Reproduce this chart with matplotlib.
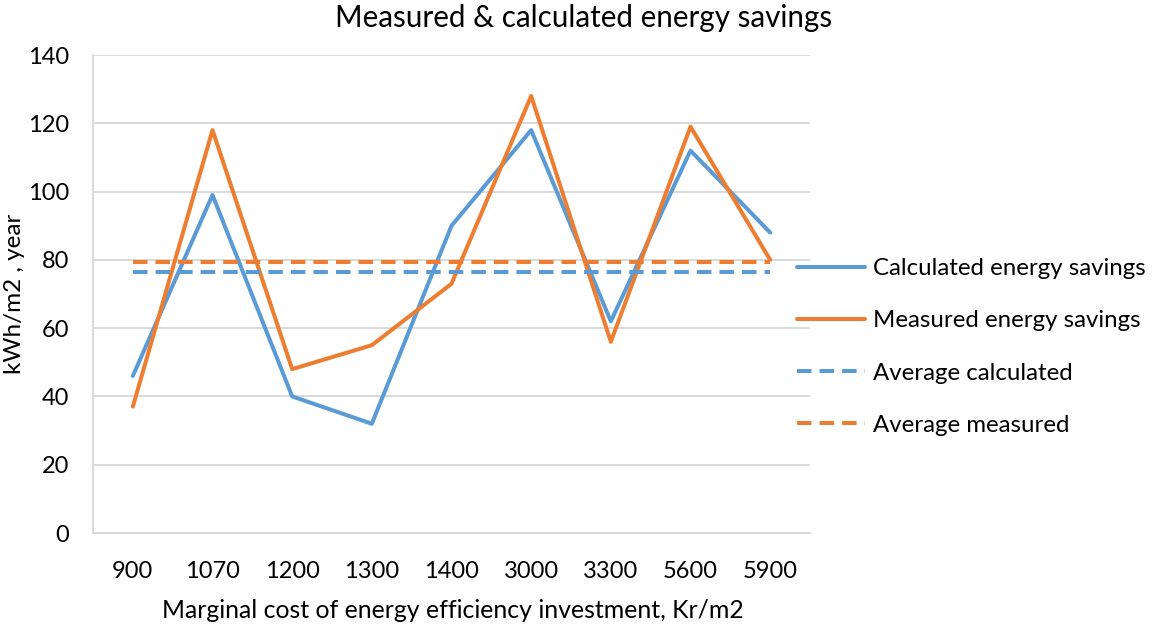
import numpy as np
import matplotlib.pyplot as plt

# data
categories = ['900', '1070', '1200', '1300', '1400', '3000', '3300', '5600', '5900']
calculated = [46, 99, 40, 32, 90, 118, 62, 112, 88]
measured = [37, 118, 48, 55, 73, 128, 56, 119, 80]
avg_calculated = np.mean(calculated)
avg_measured = np.mean(measured)

blue = '#5B9BD5'
orange = '#ED7D31'
grid = '#D9D9D9'

plt.rcParams['font.family'] = ['Lato', 'DejaVu Sans']

fig = plt.figure(figsize=(11.52, 6.3), dpi=100)
ax = fig.add_axes([93/1152, 1-533/630, (810-93)/1152, (533-55)/630])

x = np.arange(len(categories))
ax.plot(x, calculated, color=blue, lw=2.9, label='Calculated energy savings', solid_capstyle='round')
ax.plot(x, measured, color=orange, lw=2.9, label='Measured energy savings', solid_capstyle='round')
ax.plot(x, [avg_calculated]*len(x), color=blue, lw=2.9, ls=(0, (3.6, 2.0)), label='Average calculated')
ax.plot(x, [avg_measured]*len(x), color=orange, lw=2.9, ls=(0, (3.6, 2.0)), label='Average measured')

ax.set_xlim(-0.5, len(categories)-0.5)
ax.set_ylim(0, 140)
ax.set_yticks(range(0, 141, 20))
ax.set_xticks(x)
ax.set_xticklabels(categories)
ax.tick_params(axis='both', length=0, labelsize=17, colors='black')
ax.tick_params(axis='x', pad=20)
ax.tick_params(axis='y', pad=17)

ax.yaxis.grid(True, color=grid, lw=1.4)
ax.set_axisbelow(True)
for s in ['top', 'right']:
    ax.spines[s].set_visible(False)
for s in ['left', 'bottom']:
    ax.spines[s].set_color(grid)
    ax.spines[s].set_linewidth(1.4)

fig.text(584/1152, 1-18/630, 'Measured & calculated energy savings', ha='center', va='center', fontsize=21.3)
fig.text(453/1152, 1-611/630, 'Marginal cost of energy efficiency investment, Kr/m2', ha='center', va='center', fontsize=17.9)
fig.text(15/1152, 1-294/630, 'kWh/m2 , year', ha='center', va='center', rotation=90, fontsize=17.5)

fig.legend(loc='center left', bbox_to_anchor=(797/1152, 1-347/630), frameon=False,
           fontsize=17.3, handlelength=2.85, handletextpad=0.3, labelspacing=1.3, borderpad=0, borderaxespad=0)

fig.savefig('out.png', dpi=100)
